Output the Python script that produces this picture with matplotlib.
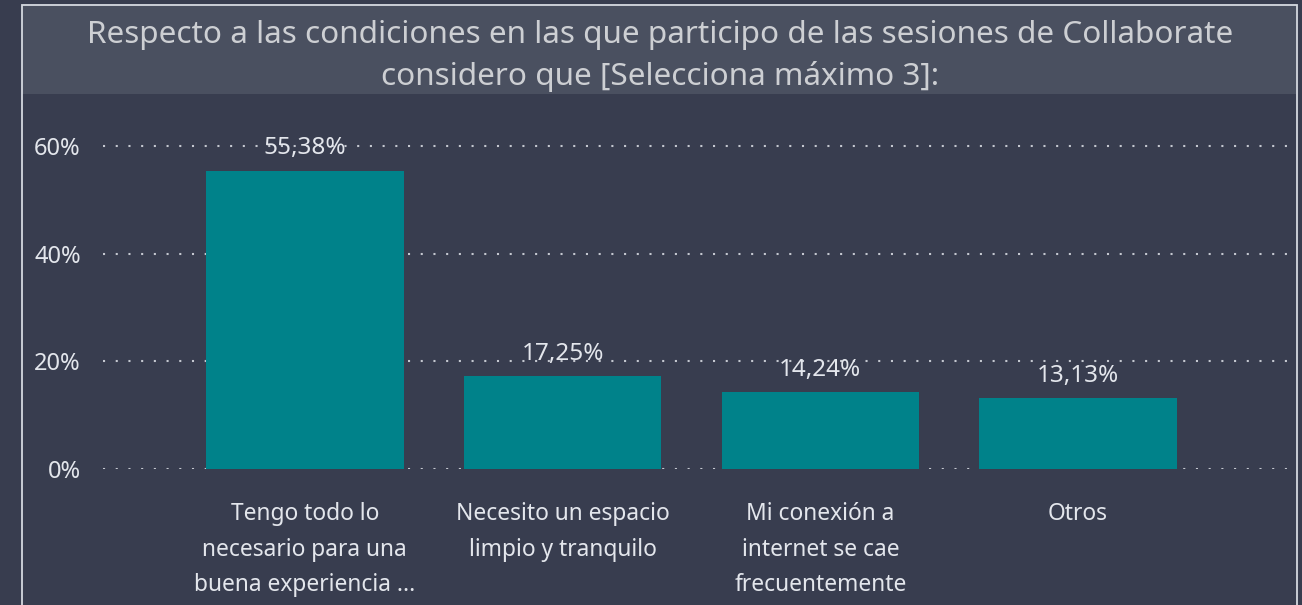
import matplotlib.pyplot as plt
from matplotlib.patches import Rectangle

categories = ["Tengo todo lo\nnecesario para una\nbuena experiencia ...",
              "Necesito un espacio\nlimpio y tranquilo",
              "Mi conexión a\ninternet se cae\nfrecuentemente",
              "Otros"]
values = [55.38, 17.25, 14.24, 13.13]
yticks = [0, 20, 40, 60]
title = ("Respecto a las condiciones en las que participo de las sesiones de Collaborate\n"
         "considero que [Selecciona máximo 3]:")

bg = "#383d4f"
band = "#4a5060"
teal = "#00828a"
txt = "#e3e6ec"

plt.rcParams['font.family'] = ['Noto Sans', 'DejaVu Sans']

W, H = 1302, 605
fig = plt.figure(figsize=(W / 100, H / 100), dpi=100, facecolor=bg)

# title band and white frame
fig.patches.append(Rectangle((22 / W, 1 - 94 / H), 1274 / W, 90 / H,
                             transform=fig.transFigure, facecolor=band, edgecolor="none", zorder=0))
fig.patches.append(Rectangle((21.5 / W, -0.05), 1275 / W, 1.05 - 4.5 / H,
                             transform=fig.transFigure, facecolor="none", edgecolor="#d5d9e0",
                             linewidth=1.3, zorder=5))
fig.text(660 / W, 1 - 56 / H, title, ha="center", va="center", fontsize=22.7,
         color="#cdcfd3", linespacing=1.5)

ax = fig.add_axes([103 / W, 136 / H, (1290 - 103) / W, (469 - 100) / H])
ax.set_facecolor(bg)

x = range(len(values))
ax.bar(x, values, width=0.767, color=teal, zorder=3)
for i, v in enumerate(values):
    ax.text(i, v + 1.9, f"{v:.2f}%".replace(".", ","), ha="center", va="bottom",
            fontsize=17.5, color=txt, zorder=4)

ax.set_xlim(-0.783, 3.822)
ax.set_ylim(0, 68.5)
ax.set_yticks(yticks)
ax.set_yticklabels([f"{t}%" for t in yticks])
ax.set_xticks(list(x))
ax.set_xticklabels(categories)
ax.tick_params(axis="both", length=0, colors=txt, labelsize=17)
ax.tick_params(axis="y", pad=16)
ax.tick_params(axis="x", pad=24, labelsize=16.4)
for lab in ax.get_xticklabels():
    lab.set_linespacing(1.64)

ax.grid(axis="y", color="#c4c8d0", linestyle=(0, (1, 5.1)), linewidth=1.5, zorder=1)
for s in ax.spines.values():
    s.set_visible(False)

fig.savefig("out.png", dpi=100, facecolor=bg)
